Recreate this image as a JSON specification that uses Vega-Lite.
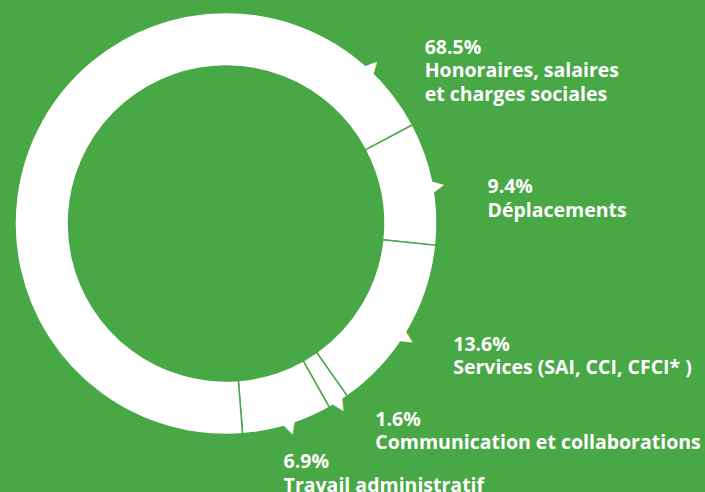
{
  "$schema": "https://vega.github.io/schema/vega-lite/v6.json",
  "width": 452,
  "height": 447,
  "autosize": {"type": "none"},
  "padding": {"left": 0, "top": 0, "right": 253, "bottom": 45},
  "background": "#49a846",
  "config": {"view": {"stroke": null}},
  "data": {
    "values": [
      {"cat": "Déplacements", "pct": 9.4, "ord": 1, "ptr": 4.97, "lpos": 5.93, "lr": 263.2, "label": ["9.4%", "Déplacements"]},
      {"cat": "Services", "pct": 13.6, "ord": 2, "ptr": 16.8, "lpos": 15.87, "lr": 260.4, "label": ["13.6%", "Services (SAI, CCI, CFCI* )"]},
      {"cat": "Communication", "pct": 1.6, "ord": 3, "ptr": 23.86, "lpos": 22.63, "lr": 251.4, "label": ["1.6%", "Communication et collaborations"]},
      {"cat": "Travail", "pct": 6.9, "ord": 4, "ptr": 27.9, "lpos": 29.07, "lr": 251.3, "label": ["6.9%", "Travail administratif"]},
      {"cat": "Honoraires", "pct": 68.5, "ord": 5, "ptr": 94.7, "lpos": 96.49, "lr": 261.4, "label": ["68.5%", "Honoraires, salaires", "et charges sociales"]}
    ]
  },
  "layer": [
    {
      "mark": {"type": "arc", "innerRadius": 157.5, "outerRadius": 211, "fill": "white", "stroke": "#49a846", "strokeWidth": 1.5},
      "encoding": {
        "theta": {"field": "pct", "type": "quantitative", "stack": true, "scale": {"domain": [0, 100], "range": [1.0838, 7.367]}},
        "order": {"field": "ord", "type": "quantitative"}
      }
    },
    {
      "mark": {"type": "text", "text": "▲", "font": "DejaVu Sans", "fontSize": 19, "radius": 215, "color": "white", "align": "center", "baseline": "middle"},
      "encoding": {
        "theta": {"field": "ptr", "type": "quantitative", "stack": null},
        "angle": {"field": "ptr", "type": "quantitative", "scale": {"domain": [0, 100], "range": [62.1, 422.1]}}
      }
    },
    {
      "mark": {"type": "text", "align": "left", "baseline": "alphabetic", "font": "Open Sans", "fontWeight": "bold", "fontSize": 19.5, "lineHeight": 23.5, "color": "white"},
      "encoding": {
        "theta": {"field": "lpos", "type": "quantitative", "stack": null},
        "radius": {"field": "lr", "type": "quantitative", "scale": {"type": "linear", "domain": [0, 300], "range": [0, 300], "zero": true}},
        "text": {"field": "label"}
      }
    }
  ]
}
